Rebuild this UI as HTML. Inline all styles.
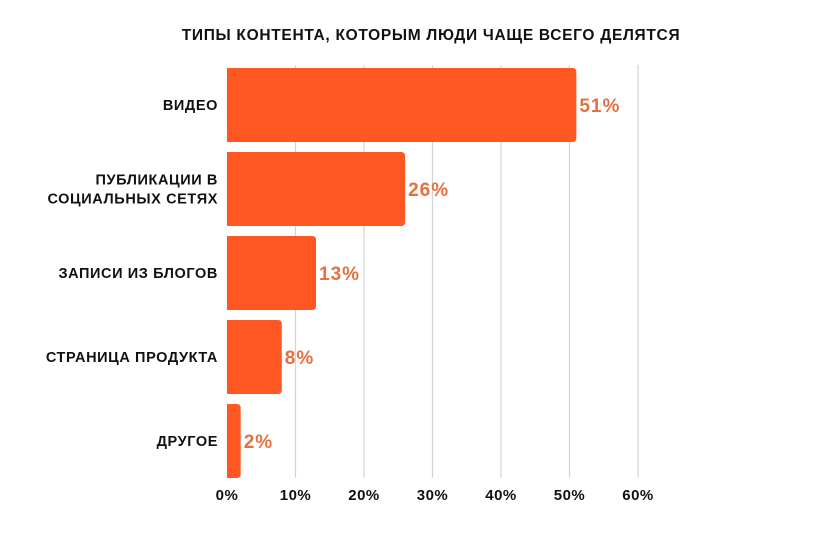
<!DOCTYPE html>
<html><head><meta charset="utf-8"><style>
body{margin:0;background:#fff;width:824px;height:530px;overflow:hidden}
svg text{font-family:"Liberation Sans","DejaVu Sans",sans-serif;font-weight:bold}
</style></head><body>
<svg id="chart" width="824" height="530">
<text x="431" y="40" text-anchor="middle" font-size="15.5" letter-spacing="0.7" fill="#111">ТИПЫ КОНТЕНТА, КОТОРЫМ ЛЮДИ ЧАЩЕ ВСЕГО ДЕЛЯТСЯ</text>
<g id="grid"></g><g id="bars"></g><g id="labels"></g><g id="ticks"></g>
</svg>
<script>
const categories=[["ВИДЕО"],["ПУБЛИКАЦИИ В","СОЦИАЛЬНЫХ СЕТЯХ"],["ЗАПИСИ ИЗ БЛОГОВ"],["СТРАНИЦА ПРОДУКТА"],["ДРУГОЕ"]];
const values=[51,26,13,8,2];
const tickValues=[0,10,20,30,40,50,60];
const tickLabels=["0%","10%","20%","30%","40%","50%","60%"];
const NS="http://www.w3.org/2000/svg";
const x=v=>227+v*6.85;
const bandTop=i=>68+i*84, bandH=74;
function mk(tag,attrs,parent){const e=document.createElementNS(NS,tag);for(const k in attrs)e.setAttribute(k,attrs[k]);document.getElementById(parent).appendChild(e);return e;}
tickValues.forEach((t,i)=>{
  if(t>0){const l=mk('line',{x1:x(t),x2:x(t),y1:65,y2:478,stroke:'#d4d4d4','stroke-width':1.2},'grid');
  
  }
  const tx=mk('text',{x:x(t),y:500,'text-anchor':'middle','font-size':15,'letter-spacing':0.5,fill:'#111'},'ticks');
  tx.textContent=tickLabels[i];
  
  
});
values.forEach((v,i)=>{
  const y=bandTop(i),w=x(v)-x(0);
  const r=mk('path',{d:`M${x(0)},${y} h${w-4} q4,0 4,4 v${bandH-8} q0,4 -4,4 h${-(w-4)} z`,fill:'#FF5722'},'bars');
  
  
  const vl=mk('text',{x:x(v)+3,y:y+bandH/2+7,'font-size':19,'letter-spacing':1,fill:'#E5703F'},'labels');
  vl.textContent=v+'%';
  
  
  const lines=categories[i];
  lines.forEach((s,j)=>{
    const cy=y+bandH/2+5+(j-(lines.length-1)/2)*19;
    const c=mk('text',{x:218,y:cy,'text-anchor':'end','font-size':14.5,'letter-spacing':0.6,fill:'#111'},'labels');
    c.textContent=s;
    
    
  });
});
</script>
</body></html>
